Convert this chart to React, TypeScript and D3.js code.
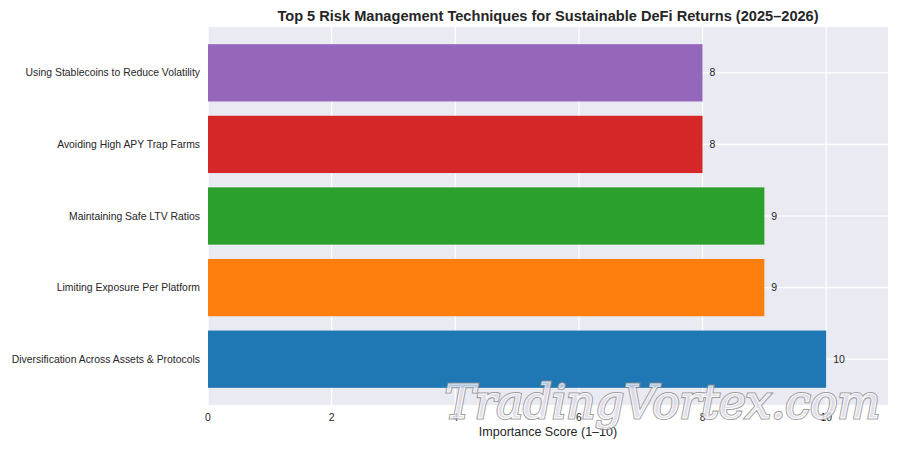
import React from "react";
import * as d3 from "d3";

const categories = [
  "Diversification Across Assets & Protocols",
  "Limiting Exposure Per Platform",
  "Maintaining Safe LTV Ratios",
  "Avoiding High APY Trap Farms",
  "Using Stablecoins to Reduce Volatility",
];
const scores = [10, 9, 9, 8, 8];
const colors = ["#1f77b4", "#ff7f0e", "#2ca02c", "#d62728", "#9467bd"];
const xTicks = [0, 2, 4, 6, 8, 10];
const title = "Top 5 Risk Management Techniques for Sustainable DeFi Returns (2025\u20132026)";
const xLabel = "Importance Score (1\u201310)";

export default function App() {
  const W = 900, H = 450;
  const left = 208, right = 888, top = 27, bottom = 405;
  const x = d3.scaleLinear().domain([0, 11]).range([left, right]);
  const y = d3.scaleLinear().domain([-0.64, 4.64]).range([bottom, top]);
  const bh = y(0) - y(0.8);
  const font = "'Liberation Sans', Arial, sans-serif";
  return (
    <svg width={W} height={H} style={{ position: "absolute", left: 0, top: 0 }} fontFamily={font}>
      <rect x={0} y={0} width={W} height={H} fill="#ffffff" />
      <rect x={left} y={top} width={right - left} height={bottom - top} fill="#eaeaf2" />
      {xTicks.map((t) => (
        <line key={"gx" + t} x1={x(t)} x2={x(t)} y1={top} y2={bottom} stroke="#ffffff" strokeWidth={1.2} />
      ))}
      {categories.map((c, i) => (
        <line key={"gy" + i} x1={left} x2={right} y1={y(i)} y2={y(i)} stroke="#ffffff" strokeWidth={1.2} />
      ))}
      {categories.map((c, i) => (
        <rect key={"b" + i} x={x(0)} y={y(i) - bh / 2} width={x(scores[i]) - x(0)} height={bh} fill={colors[i]} />
      ))}
      {categories.map((c, i) => (
        <text key={"v" + i} x={x(scores[i]) + 7} y={y(i)} dy="0.35em" fontSize={10.5} fill="#262626">
          {scores[i]}
        </text>
      ))}
      {categories.map((c, i) => (
        <text key={"yl" + i} x={left - 8} y={y(i)} dy="0.35em" textAnchor="end" fontSize={10.4} fill="#262626">
          {c}
        </text>
      ))}
      {xTicks.map((t) => (
        <text key={"xl" + t} x={x(t)} y={bottom + 12} dy="0.35em" textAnchor="middle" fontSize={10.4} fill="#262626">
          {t}
        </text>
      ))}
      <text x={(left + right) / 2} y={432} dy="0.35em" textAnchor="middle" fontSize={12.5} fill="#262626">
        {xLabel}
      </text>
      <text x={(left + right) / 2} y={16} dy="0.35em" textAnchor="middle" fontSize={14.6} fontWeight="bold" fill="#262626">
        {title}
      </text>
      <g opacity={0.8}>
        <text
          x={445}
          y={418}
          fontFamily="'DejaVu Serif', serif"
          fontStyle="italic"
          fontSize={46}
          textLength={435}
          lengthAdjust="spacingAndGlyphs"
          fill="#dcd8e6"
          stroke="#8a8a8a"
          strokeWidth={3.2}
          paintOrder="stroke"
        >
          TradingVortex.com
        </text>
        <text
          x={445}
          y={418}
          fontFamily="'DejaVu Serif', serif"
          fontStyle="italic"
          fontSize={46}
          textLength={435}
          lengthAdjust="spacingAndGlyphs"
          fill="none"
          stroke="#ffffff"
          strokeWidth={1}
        >
          TradingVortex.com
        </text>
      </g>
    </svg>
  );
}
